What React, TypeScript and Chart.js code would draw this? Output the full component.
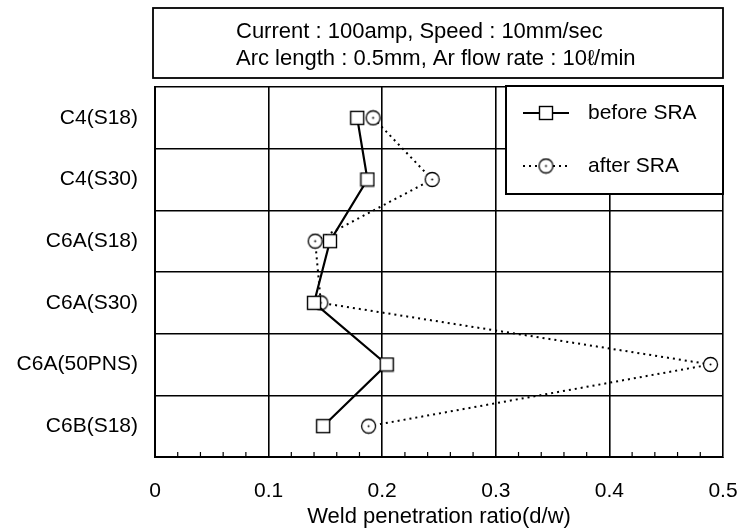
import React, { useEffect, useRef } from "react";
import { Chart, registerables } from "chart.js";

Chart.register(...registerables);

const categories = ["C4(S18)", "C4(S30)", "C6A(S18)", "C6A(S30)", "C6A(50PNS)", "C6B(S18)"];
const beforeSRA = [0.178, 0.187, 0.154, 0.14, 0.204, 0.148];
const afterSRA = [0.192, 0.244, 0.141, 0.146, 0.489, 0.188];
const xTicks = [0, 0.1, 0.2, 0.3, 0.4, 0.5];
const titleLines = ["Current : 100amp, Speed : 10mm/sec", "Arc length : 0.5mm, Ar flow rate : 10\u2113/min"];
const xTitle = "Weld penetration ratio(d/w)";
const seriesNames = ["before SRA", "after SRA"];

const FONT = "'Liberation Sans', Arial, Helvetica, sans-serif";
const FS = 21;
const TFS = 22;

function makeSquare(): HTMLCanvasElement {
  const c = document.createElement("canvas");
  c.width = 16; c.height = 16;
  const g = c.getContext("2d")!;
  g.fillStyle = "#fff";
  g.fillRect(1.5, 1.5, 13, 13);
  g.strokeStyle = "#000";
  g.lineWidth = 1.4;
  g.strokeRect(1.5, 1.5, 13, 13);
  return c;
}
function makeCircle(): HTMLCanvasElement {
  const c = document.createElement("canvas");
  c.width = 17; c.height = 17;
  const g = c.getContext("2d")!;
  g.beginPath();
  g.arc(8.5, 8.5, 7, 0, Math.PI * 2);
  g.fillStyle = "#fff";
  g.fill();
  g.strokeStyle = "#000";
  g.lineWidth = 1.3;
  g.stroke();
  g.beginPath();
  g.arc(8.5, 8.5, 1.0, 0, Math.PI * 2);
  g.fillStyle = "#000";
  g.fill();
  return c;
}

export default function App() {
  const ref = useRef<HTMLCanvasElement | null>(null);
  useEffect(() => {
    if (!ref.current) return;
    const sq = makeSquare();
    const ci = makeCircle();
    const decor = {
      id: "decor",
      beforeDatasetsDraw(chart: any) {
        const { ctx, chartArea, scales } = chart;
        const xs = scales.x;
        ctx.save();
        ctx.strokeStyle = "#000";
        ctx.lineWidth = 1.2;
        for (let i = 1; i < 25; i++) {
          if (i % 5 === 0) continue;
          const px = xs.getPixelForValue(i * 0.02);
          ctx.beginPath();
          ctx.moveTo(px, chartArea.bottom);
          ctx.lineTo(px, chartArea.bottom - 5);
          ctx.stroke();
        }
        // title box and text
        const left = chartArea.left - 2;
        const top = 8;
        const bottom = chartArea.top - 9;
        ctx.lineWidth = 1.8;
        ctx.strokeRect(left, top, chartArea.right - left, bottom - top);
        ctx.fillStyle = "#000";
        ctx.font = `${TFS}px ${FONT}`;
        ctx.textBaseline = "middle";
        ctx.textAlign = "left";
        titleLines.forEach((t, i) => {
          ctx.fillText(t, chartArea.left + 81, 32 + i * 26.5);
        });
        ctx.restore();
      },
      afterDatasetsDraw(chart: any) {
        const { ctx, chartArea } = chart;
        const bx = chartArea.right - 217;
        const by = chartArea.top - 1;
        const bw = 217;
        const bh = 108;
        ctx.save();
        ctx.fillStyle = "#fff";
        ctx.fillRect(bx, by, bw, bh);
        ctx.strokeStyle = "#000";
        ctx.lineWidth = 2;
        ctx.strokeRect(bx, by, bw, bh);
        const rows = [by + 27, by + 80];
        chart.data.datasets.forEach((ds: any, i: number) => {
          const y = rows[i];
          ctx.beginPath();
          ctx.lineWidth = 2;
          ctx.strokeStyle = "#000";
          ctx.setLineDash(ds.borderDash || []);
          ctx.moveTo(bx + 17, y);
          ctx.lineTo(bx + 63, y);
          ctx.stroke();
          ctx.setLineDash([]);
          const img = i === 0 ? sq : ci;
          ctx.drawImage(img, bx + 40 - img.width / 2, y - img.height / 2);
          ctx.fillStyle = "#000";
          ctx.font = `${FS}px ${FONT}`;
          ctx.textBaseline = "middle";
          ctx.textAlign = "left";
          ctx.fillText(ds.label, bx + 82, y);
        });
        ctx.restore();
      },
    };
    const chart = new Chart(ref.current, {
      type: "line",
      data: {
        labels: categories,
        datasets: [
          {
            label: seriesNames[0],
            data: beforeSRA,
            borderColor: "#000",
            borderWidth: 2.2,
            pointStyle: sq as any,
            pointRadius: 7,
            tension: 0,
          },
          {
            label: seriesNames[1],
            data: afterSRA,
            borderColor: "#000",
            borderWidth: 2,
            borderDash: [2, 4],
            pointStyle: ci as any,
            pointRadius: 7,
            tension: 0,
          },
        ],
      },
      options: {
        animation: false,
        responsive: false,
        indexAxis: "y",
        layout: { padding: { left: 0, right: 18, top: 87, bottom: 0 } },
        plugins: {
          legend: { display: false },
          tooltip: { enabled: false },
          title: { display: false },
        },
        scales: {
          x: {
            type: "linear",
            min: 0,
            max: 0.5,
            afterBuildTicks: (s: any) => {
              s.ticks = xTicks.map((v) => ({ value: v }));
            },
            afterFit: (s: any) => {
              s.height = 75;
              s.paddingLeft = 0;
              s.paddingRight = 0;
            },
            ticks: {
              color: "#000",
              font: { family: FONT, size: FS },
              padding: 22,
              maxRotation: 0,
              callback: (v: any) => String(v),
            },
            grid: { color: "#000", lineWidth: 1.6, tickLength: 0 },
            border: { color: "#000", width: 2 },
            title: {
              display: true,
              text: xTitle,
              color: "#000",
              font: { family: FONT, size: TFS },
              padding: { top: 0, bottom: 2 },
            },
          },
          y: {
            type: "category",
            offset: true,
            afterFit: (s: any) => {
              s.width = 155;
              s.paddingTop = 0;
              s.paddingBottom = 0;
            },
            ticks: { color: "#000", font: { family: FONT, size: FS }, padding: 17 },
            grid: { color: "#000", lineWidth: 1.6, tickLength: 0, offset: true },
            border: { color: "#000", width: 2 },
          },
        },
      },
      plugins: [decor],
    });
    return () => chart.destroy();
  }, []);
  return (
    <div style={{ position: "absolute", left: 0, top: 0, width: 741, height: 532, background: "#fff" }}>
      <canvas ref={ref} width={741} height={532} style={{ display: "block" }} />
    </div>
  );
}
